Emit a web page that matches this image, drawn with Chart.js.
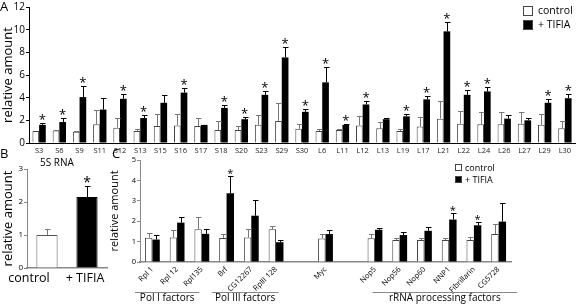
<!DOCTYPE html>
<html>
<head>
<meta charset="utf-8">
<script src="https://cdn.jsdelivr.net/npm/chart.js@4.4.1/dist/chart.umd.min.js"></script>
<style>
  body { margin: 0; background: #fff; width: 576px; height: 305px; position: relative; overflow: hidden; font-family: "Open Sans", sans-serif; }
  canvas { position: absolute; }
  .txt { position: absolute; color: #000; white-space: nowrap; line-height: 1; }
  .box { position: absolute; box-sizing: border-box; border: 1px solid #444; }
</style>
</head>
<body>
<canvas id="chartA" width="576" height="158" style="left:0;top:0"></canvas>
<canvas id="chartB" width="110" height="160" style="left:0;top:145px"></canvas>
<canvas id="chartC" width="468" height="160" style="left:108px;top:145px"></canvas>

<div class="txt" style="left:0;top:0;font-size:13px">A</div>
<div class="txt" style="left:0;top:147px;font-size:13px">B</div>
<div class="txt" style="left:112px;top:147px;font-size:13px">C</div>
<div class="txt" style="left:40px;top:157px;font-size:10px">5S RNA</div>

<div class="box" style="left:523px;top:6px;width:10px;height:10px;background:#fff"></div>
<div class="txt" style="left:538px;top:5px;font-size:10.5px">control</div>
<div class="box" style="left:523px;top:20px;width:10px;height:10px;background:#000"></div>
<div class="txt" style="left:538px;top:19px;font-size:10.5px">+ TIFIA</div>

<div class="box" style="left:455px;top:164px;width:7px;height:7px;background:#fff"></div>
<div class="txt" style="left:465px;top:163px;font-size:9px">control</div>
<div class="box" style="left:455px;top:176px;width:7px;height:7px;background:#000"></div>
<div class="txt" style="left:465px;top:175px;font-size:9px">+ TIFIA</div>

<script>
// Panel A: ribosomal proteins
const proteinLabels = ["S3", "S6", "S9", "S11", "S12", "S13", "S15", "S16", "S17", "S18", "S20", "S23", "S29", "S30",
  "L6", "L11", "L12", "L13", "L19", "L17", "L21", "L22", "L24", "L26", "L27", "L29", "L30"];
const proteinControl = [1.05, 1.1, 1.0, 1.65, 1.35, 1.05, 1.5, 1.55, 1.5, 1.15, 1.15, 1.6, 1.95, 1.25,
  1.05, 1.15, 1.55, 1.3, 1.05, 1.45, 2.15, 1.7, 1.65, 1.65, 1.7, 1.6, 1.3];
const proteinControlErr = [0, 0.05, 0.1, 1.25, 0.9, 0.15, 1.1, 1.05, 0.7, 0.8, 0.35, 0.9, 1.55, 0.45,
  0.15, 0.05, 0.85, 0.55, 0.2, 0.85, 1.6, 1.15, 1.05, 1.1, 1.05, 0.95, 0.65];
const proteinTifia = [1.6, 1.85, 4.05, 2.95, 3.9, 2.2, 3.55, 4.45, 1.6, 3.1, 2.1, 4.25, 7.55, 2.75,
  5.35, 1.6, 3.4, 2.1, 2.35, 3.85, 9.85, 4.25, 4.55, 2.15, 2.0, 3.55, 3.95];
const proteinTifiaErr = [0.15, 0.35, 0.95, 1.0, 0.45, 0.3, 0.7, 0.4, 0, 0.25, 0.2, 0.3, 0.9, 0.25,
  1.35, 0.1, 0.35, 0.15, 0.25, 0.3, 0.85, 0.4, 0.35, 0.3, 0.25, 0.3, 0.35];
const proteinStars = [1, 1, 1, 0, 1, 1, 0, 1, 0, 1, 1, 1, 1, 1, 1, 1, 1, 0, 1, 1, 1, 1, 1, 0, 0, 1, 1];

// Panel B: 5S RNA
const rnaLabels = ["control", "+ TIFIA"];
const rnaValues = [1.0, 2.15];
const rnaErr = [0.17, 0.35];
const rnaStars = [0, 1];
// the labels sit left of their bars in the original
const rnaLabelShift = [-18, -2];

// Panel C: factors (blank slots separate the groups)
const factorLabels = ["Rpl 1", "Rpl 12", "Rpl135", "Brf", "CG12267", "RpIII 128", "", "Myc", "",
  "Nop5", "Nop56", "Nop60", "NNP1", "Fibrillarin", "CG5728"];
const factorControl = [1.19, 1.2, 1.6, 1.18, 1.2, 1.6, null, 1.15, null, 1.16, 1.08, 1.08, 1.08, 1.08, 1.37];
const factorControlErr = [0.21, 0.36, 0.63, 0.2, 0.42, 0.18, null, 0.22, null, 0.19, 0.12, 0.1, 0.1, 0.16, 0.48];
const factorTifia = [1.1, 1.93, 1.38, 3.37, 2.27, 0.97, null, 1.37, null, 1.58, 1.32, 1.53, 2.08, 1.8, 1.98];
const factorTifiaErr = [0.23, 0.3, 0.22, 0.83, 0.76, 0.13, null, 0.2, null, 0.11, 0.16, 0.18, 0.32, 0.15, 0.92];
const factorStars = [0, 0, 0, 1, 0, 0, 0, 0, 0, 0, 0, 0, 1, 1, 0];
const factorGroups = [
  { label: "Pol I factors", first: 0, last: 2 },
  { label: "Pol III factors", first: 3, last: 5 },
  { label: "rRNA processing factors", first: 9, last: 14 },
];
// where the group underlines start/end, in category units relative to first/last
const groupExtent = [[-0.7, -0.1], [-0.6, 0.1], [-0.1, 0.75]];

// draws the upward error bars and the significance stars
const errorBars = {
  id: "errorBars",
  afterDatasetsDraw(chart) {
    const ctx = chart.ctx;
    const y = chart.scales.y;
    chart.data.datasets.forEach((ds, i) => {
      const meta = chart.getDatasetMeta(i);
      meta.data.forEach((bar, j) => {
        const v = ds.data[j];
        if (v == null) return;
        const err = ds.errors[j] || 0;
        const top = y.getPixelForValue(v + err);
        const color = Array.isArray(ds.errorColor) ? ds.errorColor[j] : ds.errorColor;
        const bx = Math.round(bar.x);
        ctx.save();
        ctx.strokeStyle = color;
        ctx.lineWidth = 1;
        if (err > 0) {
          ctx.beginPath();
          ctx.moveTo(bx + 0.5, bar.y);
          ctx.lineTo(bx + 0.5, Math.round(top) + 0.5);
          ctx.moveTo(bx - 2, Math.round(top) + 0.5);
          ctx.lineTo(bx + 3.5, Math.round(top) + 0.5);
          ctx.stroke();
        }
        if (ds.stars && ds.stars[j]) {
          ctx.fillStyle = "#000";
          ctx.font = (ds.starSize || 13) + "px 'Open Sans'";
          ctx.textAlign = "center";
          ctx.textBaseline = "alphabetic";
          ctx.fillText("*", bar.x, top + 1);
        }
        ctx.restore();
      });
    });
  },
};

const groupLabels = {
  id: "groupLabels",
  afterDraw(chart) {
    const ctx = chart.ctx;
    const x = chart.scales.x;
    const w = x.getPixelForValue(1) - x.getPixelForValue(0);
    ctx.save();
    factorGroups.forEach((g, k) => {
      const x1 = x.getPixelForValue(g.first) + groupExtent[k][0] * w;
      const x2 = x.getPixelForValue(g.last) + groupExtent[k][1] * w;
      ctx.strokeStyle = "#888";
      ctx.lineWidth = 1.2;
      ctx.beginPath();
      ctx.moveTo(x1, 147.5);
      ctx.lineTo(x2, 147.5);
      ctx.stroke();
      ctx.fillStyle = "#000";
      ctx.font = "10px 'Open Sans'";
      ctx.textAlign = "center";
      ctx.textBaseline = "middle";
      ctx.fillText(g.label, (x1 + x2) / 2, 153.5);
    });
    ctx.restore();
  },
};

// category labels of panel B, placed from the x scale
const rnaTickLabels = {
  id: "rnaTickLabels",
  afterDraw(chart) {
    const ctx = chart.ctx;
    const x = chart.scales.x;
    ctx.save();
    ctx.fillStyle = "#000";
    ctx.font = "12.5px 'Open Sans'";
    ctx.textAlign = "center";
    ctx.textBaseline = "top";
    rnaLabels.forEach((label, i) => {
      ctx.fillText(label, x.getPixelForValue(i) + rnaLabelShift[i], x.top + 4);
    });
    ctx.restore();
  },
};

function yAxis(max, step, width, tickSize, titleSize, color) {
  return {
    min: 0,
    max: max,
    afterFit: (s) => { s.width = width; },
    border: { color: color, width: 1 },
    grid: { drawOnChartArea: false, tickLength: 3, color: color },
    ticks: { stepSize: step, padding: 1, color: "#000", font: { family: "Open Sans", size: tickSize } },
    title: {
      display: true,
      text: "relative amount",
      color: "#000",
      padding: { top: 0, bottom: 0 },
      font: { family: "Open Sans", size: titleSize },
    },
  };
}

const common = {
  responsive: false,
  animation: false,
  events: [],
  plugins: { legend: { display: false }, tooltip: { enabled: false } },
};

new Chart(document.getElementById("chartA"), {
  type: "bar",
  data: {
    labels: proteinLabels,
    datasets: [
      {
        label: "control",
        data: proteinControl,
        errors: proteinControlErr,
        errorColor: "#777",
        backgroundColor: "#fff",
        borderColor: "#444",
        borderWidth: 1,
        categoryPercentage: 0.66,
        barPercentage: 1.0,
      },
      {
        label: "+ TIFIA",
        data: proteinTifia,
        errors: proteinTifiaErr,
        errorColor: "#000",
        stars: proteinStars,
        backgroundColor: "#000",
        borderColor: "#000",
        borderWidth: 0,
        categoryPercentage: 0.66,
        barPercentage: 1.0,
      },
    ],
  },
  options: {
    ...common,
    layout: { padding: { top: 5, right: 1, left: 0, bottom: 0 } },
    scales: {
      x: {
        afterFit: (s) => { s.height = 15; },
        border: { color: "#000", width: 1 },
        grid: { display: false, drawTicks: false, tickLength: 0 },
        ticks: { autoSkip: false, maxRotation: 0, padding: 3, color: "#222", font: { family: "Open Sans", size: 7.5 } },
      },
      y: yAxis(12, 2, 29, 10, 13, "#000"),
    },
  },
  plugins: [errorBars],
});

new Chart(document.getElementById("chartB"), {
  type: "bar",
  data: {
    labels: rnaLabels,
    datasets: [
      {
        data: rnaValues,
        errors: rnaErr,
        errorColor: ["#777", "#000"],
        stars: rnaStars,
        starSize: 14,
        backgroundColor: ["#fff", "#000"],
        borderColor: ["#555", "#000"],
        borderWidth: 1,
        categoryPercentage: 1.0,
        barPercentage: 0.53,
      },
    ],
  },
  options: {
    ...common,
    layout: { padding: { top: 24, right: 3, left: 0, bottom: 0 } },
    scales: {
      x: {
        afterFit: (s) => { s.height = 37; },
        border: { color: "#888", width: 1.5 },
        grid: { display: false, drawTicks: false, tickLength: 0 },
        ticks: { display: false },
      },
      y: yAxis(3, 1, 27, 8, 13, "#888"),
    },
  },
  plugins: [errorBars, rnaTickLabels],
});

new Chart(document.getElementById("chartC"), {
  type: "bar",
  data: {
    labels: factorLabels,
    datasets: [
      {
        label: "control",
        data: factorControl,
        errors: factorControlErr,
        errorColor: "#777",
        backgroundColor: "#fff",
        borderColor: "#444",
        borderWidth: 1,
        categoryPercentage: 0.6,
        barPercentage: 1.0,
      },
      {
        label: "+ TIFIA",
        data: factorTifia,
        errors: factorTifiaErr,
        errorColor: "#000",
        stars: factorStars,
        starSize: 11,
        backgroundColor: "#000",
        borderColor: "#000",
        borderWidth: 0,
        categoryPercentage: 0.6,
        barPercentage: 1.0,
      },
    ],
  },
  options: {
    ...common,
    layout: { padding: { top: 15, right: 65, left: 0, bottom: 0 } },
    scales: {
      x: {
        afterFit: (s) => { s.height = 43; },
        border: { color: "#888", width: 1.5 },
        grid: { display: false, drawTicks: false, tickLength: 0 },
        ticks: { autoSkip: false, minRotation: 45, maxRotation: 45, padding: 3, color: "#000", font: { family: "Open Sans", size: 7.5 } },
      },
      y: yAxis(5, 1, 32, 7.5, 11, "#888"),
    },
  },
  plugins: [errorBars, groupLabels],
});
</script>
</body>
</html>
